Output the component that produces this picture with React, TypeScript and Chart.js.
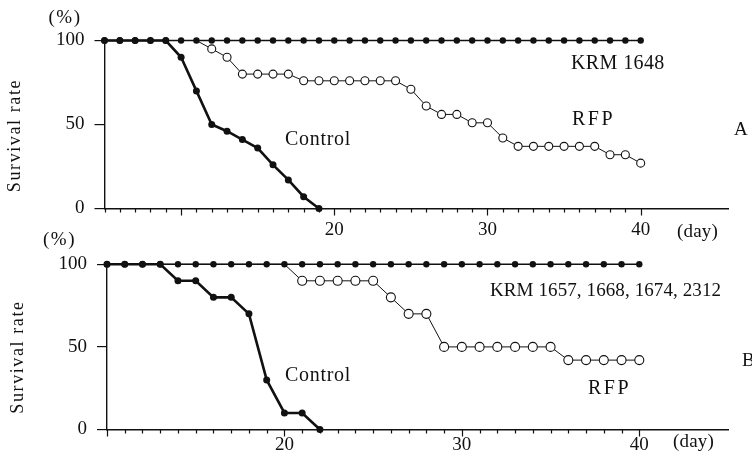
import React, { useEffect, useRef } from 'react';
import { Chart, registerables } from 'chart.js';

Chart.register(...registerables);

// ---------- Data: panel A ----------
const daysA = [5, 6, 7, 8, 9, 10, 11, 12, 13, 14, 15, 16, 17, 18, 19, 20, 21, 22, 23, 24, 25, 26, 27, 28, 29, 30, 31, 32, 33, 34, 35, 36, 37, 38, 39, 40];
const krm1648 = [100, 100, 100, 100, 100, 100, 100, 100, 100, 100, 100, 100, 100, 100, 100, 100, 100, 100, 100, 100, 100, 100, 100, 100, 100, 100, 100, 100, 100, 100, 100, 100, 100, 100, 100, 100];
const rfpA = [100, 100, 100, 100, 100, 100, 100, 95, 90, 80, 80, 80, 80, 76, 76, 76, 76, 76, 76, 76, 71, 61, 56, 56, 51, 51, 42, 37, 37, 37, 37, 37, 37, 32, 32, 27];
const controlDaysA = [5, 6, 7, 8, 9, 10, 11, 12, 13, 14, 15, 16, 17, 18, 19];
const controlA = [100, 100, 100, 100, 100, 90, 70, 50, 46, 41, 36, 26, 17, 7, 0];

// ---------- Data: panel B ----------
const daysB = [10, 11, 12, 13, 14, 15, 16, 17, 18, 19, 20, 21, 22, 23, 24, 25, 26, 27, 28, 29, 30, 31, 32, 33, 34, 35, 36, 37, 38, 39, 40];
const krmB = [100, 100, 100, 100, 100, 100, 100, 100, 100, 100, 100, 100, 100, 100, 100, 100, 100, 100, 100, 100, 100, 100, 100, 100, 100, 100, 100, 100, 100, 100, 100];
const rfpB = [100, 100, 100, 100, 100, 100, 100, 100, 100, 100, 100, 90, 90, 90, 90, 90, 80, 70, 70, 50, 50, 50, 50, 50, 50, 50, 42, 42, 42, 42, 42];
const controlDaysB = [10, 11, 12, 13, 14, 15, 16, 17, 18, 19, 20, 21, 22];
const controlB = [100, 100, 100, 100, 90, 90, 80, 80, 70, 30, 10, 10, 0];

// ---------- Axis tick labels ----------
const xTickLabels = [20, 30, 40];
const yTickValues = [0, 50, 100];

const FONT = '"Liberation Serif", "DejaVu Serif", serif';
const INK = '#111';

type TextItem = { text: string; x: number; y: number; size: number; sp: number; align: CanvasTextAlign; rotate?: boolean };

type PanelSpec = {
  top: number;
  height: number;
  areaLeft: number;
  areaRight: number;
  areaTop: number;
  areaBottom: number;
  xMin: number;
  xMax: number;
  labelPad: number;
  openR: number;
  days: number[];
  krm: number[];
  rfp: number[];
  cDays: number[];
  control: number[];
  texts: TextItem[];
};

const panelA: PanelSpec = {
  top: 0,
  height: 250,
  areaLeft: 104.5,
  areaRight: 728,
  areaTop: 40.5,
  areaBottom: 208.5,
  xMin: 5,
  xMax: 45.7,
  labelPad: 10,
  openR: 4,
  days: daysA,
  krm: krm1648,
  rfp: rfpA,
  cDays: controlDaysA,
  control: controlA,
  texts: [
    { text: '(%)', x: 65, y: 18.5, size: 19, sp: 1.5, align: 'center' },
    { text: 'Survival rate', x: 15.5, y: 135.5, size: 18, sp: 1.6, align: 'center', rotate: true },
    { text: 'KRM 1648', x: 571, y: 64, size: 20, sp: 0.4, align: 'left' },
    { text: 'RFP', x: 572, y: 119.5, size: 20, sp: 2.5, align: 'left' },
    { text: 'Control', x: 285, y: 140, size: 20, sp: 0.7, align: 'left' },
    { text: 'A', x: 734, y: 130, size: 19, sp: 0, align: 'left' },
    { text: '(day)', x: 677, y: 232, size: 19, sp: 0.2, align: 'left' },
  ],
};

const panelB: PanelSpec = {
  top: 232,
  height: 231,
  areaLeft: 107,
  areaRight: 728,
  areaTop: 32.3,
  areaBottom: 197.5,
  xMin: 10,
  xMax: 45.0,
  labelPad: 4,
  openR: 4.5,
  days: daysB,
  krm: krmB,
  rfp: rfpB,
  cDays: controlDaysB,
  control: controlB,
  texts: [
    { text: '(%)', x: 59.5, y: 240, size: 19, sp: 1.5, align: 'center' },
    { text: 'Survival rate', x: 18.5, y: 357, size: 18, sp: 1.6, align: 'center', rotate: true },
    { text: 'KRM 1657, 1668, 1674, 2312', x: 490, y: 291, size: 19, sp: 0.1, align: 'left' },
    { text: 'RFP', x: 588, y: 389, size: 20, sp: 2.5, align: 'left' },
    { text: 'Control', x: 285, y: 376, size: 20, sp: 0.7, align: 'left' },
    { text: 'B', x: 742, y: 361, size: 19, sp: 0, align: 'left' },
    { text: '(day)', x: 673, y: 442, size: 19, sp: 0.2, align: 'left' },
  ],
};

function annotPlugin(p: PanelSpec) {
  return {
    id: 'annot',
    afterDraw(chart: any) {
      const ctx: CanvasRenderingContext2D = chart.ctx;
      const xs = chart.scales.x;
      const y0 = xs.top;
      ctx.save();
      ctx.strokeStyle = INK;
      ctx.lineWidth = 1.2;
      for (const v of p.days) {
        const px = Math.round(xs.getPixelForValue(v)) + 0.5;
        const len = v % 10 === 0 ? 7 : 4;
        ctx.beginPath();
        ctx.moveTo(px, y0);
        ctx.lineTo(px, y0 + len);
        ctx.stroke();
      }
      ctx.restore();

      for (const t of p.texts) {
        ctx.save();
        ctx.font = `${t.size}px ${FONT}`;
        (ctx as any).letterSpacing = `${t.sp}px`;
        ctx.fillStyle = INK;
        ctx.textBaseline = 'middle';
        ctx.textAlign = t.align;
        const cy = t.y - p.top;
        if (t.rotate) {
          ctx.translate(t.x, cy);
          ctx.rotate(-Math.PI / 2);
          ctx.fillText(t.text, 0, 0);
        } else {
          ctx.fillText(t.text, t.x, cy);
        }
        ctx.restore();
      }
    },
  };
}

function buildConfig(p: PanelSpec): any {
  return {
    type: 'line',
    data: {
      datasets: [
        {
          label: 'KRM',
          data: p.days.map((d, i) => ({ x: d, y: p.krm[i] })),
          borderColor: INK,
          borderWidth: 1.4,
          pointRadius: 3.2,
          pointBackgroundColor: INK,
          pointBorderColor: INK,
          pointBorderWidth: 0,
          tension: 0,
          clip: false,
        },
        {
          label: 'Control',
          data: p.cDays.map((d, i) => ({ x: d, y: p.control[i] })),
          borderColor: INK,
          borderWidth: 2.6,
          pointRadius: 3.5,
          pointBackgroundColor: INK,
          pointBorderColor: INK,
          pointBorderWidth: 0,
          tension: 0,
          clip: false,
        },
        {
          label: 'RFP',
          data: p.days.map((d, i) => ({ x: d, y: p.rfp[i] })),
          borderColor: INK,
          borderWidth: 1,
          // points still at 100% are hidden behind the KRM markers in the original
          pointRadius: (c: any) => (c.raw && c.raw.y >= 100 ? 0 : p.openR),
          pointBackgroundColor: '#fff',
          pointBorderColor: INK,
          pointBorderWidth: 1.1,
          tension: 0,
          clip: false,
        },
      ],
    },
    options: {
      animation: false,
      responsive: false,
      devicePixelRatio: 1,
      events: [],
      layout: { padding: { left: 0, top: p.areaTop, right: 752 - p.areaRight, bottom: 0 } },
      plugins: { legend: { display: false }, tooltip: { enabled: false }, title: { display: false } },
      scales: {
        x: {
          type: 'linear',
          min: p.xMin,
          max: p.xMax,
          afterBuildTicks: (s: any) => {
            s.ticks = p.days.map((v) => ({ value: v }));
          },
          afterFit: (s: any) => {
            s.height = p.height - p.areaBottom;
          },
          grid: { display: false, drawTicks: false },
          border: { display: true, color: INK, width: 1.4 },
          ticks: {
            autoSkip: false,
            maxRotation: 0,
            padding: p.labelPad,
            color: INK,
            font: { family: FONT, size: 19 },
            callback: (v: number) => (xTickLabels.includes(v) ? String(v) : ''),
          },
        },
        y: {
          min: 0,
          max: 100,
          afterBuildTicks: (s: any) => {
            s.ticks = yTickValues.map((v) => ({ value: v }));
          },
          afterFit: (s: any) => {
            s.width = p.areaLeft;
          },
          grid: { display: true, drawOnChartArea: false, drawTicks: true, tickLength: 10, color: INK, lineWidth: 1.2 },
          border: { display: true, color: INK, width: 1.4 },
          ticks: {
            padding: 10,
            color: INK,
            font: { family: FONT, size: 19 },
            callback: (v: number) => String(v),
          },
        },
      },
    },
    plugins: [annotPlugin(p)],
  };
}

export default function App() {
  const refA = useRef<HTMLCanvasElement | null>(null);
  const refB = useRef<HTMLCanvasElement | null>(null);

  useEffect(() => {
    document.body.style.margin = '0';
    document.body.style.background = '#fff';
    const a = new Chart(refA.current as HTMLCanvasElement, buildConfig(panelA));
    const b = new Chart(refB.current as HTMLCanvasElement, buildConfig(panelB));
    return () => {
      a.destroy();
      b.destroy();
    };
  }, []);

  return (
    <div style={{ position: 'relative', width: 752, height: 463, background: '#fff', overflow: 'hidden' }}>
      <canvas
        ref={refA}
        width={752}
        height={panelA.height}
        style={{ position: 'absolute', left: 0, top: panelA.top, width: 752, height: panelA.height, display: 'block' }}
      />
      <canvas
        ref={refB}
        width={752}
        height={panelB.height}
        style={{ position: 'absolute', left: 0, top: panelB.top, width: 752, height: panelB.height, display: 'block' }}
      />
    </div>
  );
}
